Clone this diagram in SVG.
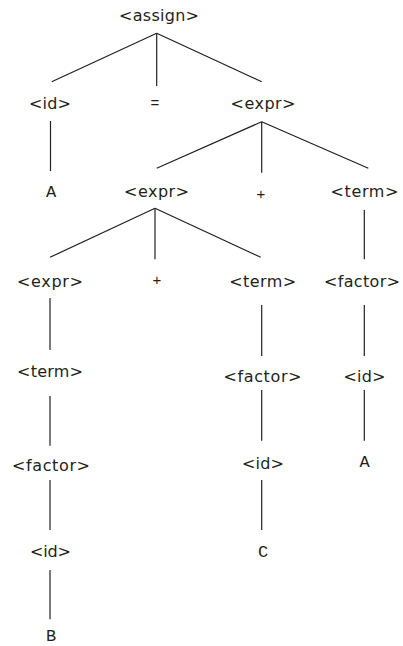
<svg xmlns="http://www.w3.org/2000/svg" width="403" height="646" viewBox="0 0 403 646">
<style>
.n{font-family:"DejaVu Sans","Liberation Sans",sans-serif;font-size:16px;fill:#231f20;text-anchor:middle}
.m{font-family:"Liberation Mono","Courier New",monospace;font-size:17px;fill:#231f20;text-anchor:middle}
.s{font-family:"Liberation Sans",Arial,sans-serif;font-size:15px;fill:#231f20;text-anchor:middle}
#edges line{stroke:#231f20;stroke-width:1.2}
</style>
<rect width="403" height="646" fill="#fff"/>
<g id="edges">
<line x1="156.7" y1="33.3" x2="51.7" y2="81.7"/>
<line x1="156.7" y1="33.3" x2="156.7" y2="86"/>
<line x1="156.7" y1="33.3" x2="261.7" y2="81.7"/>
<line x1="50.5" y1="121" x2="50.5" y2="171"/>
<line x1="261.7" y1="121.7" x2="156.7" y2="168.3"/>
<line x1="261.7" y1="121.7" x2="261.7" y2="172.7"/>
<line x1="261.7" y1="121.7" x2="368.3" y2="168.3"/>
<line x1="155" y1="208.3" x2="50" y2="257.3"/>
<line x1="155" y1="208.3" x2="155" y2="259.3"/>
<line x1="155" y1="208.3" x2="260.7" y2="257.3"/>
<line x1="364.3" y1="210" x2="364.3" y2="259.3"/>
<line x1="50" y1="298" x2="50" y2="350"/>
<line x1="261.7" y1="305" x2="261.7" y2="356"/>
<line x1="364.3" y1="305" x2="364.3" y2="356"/>
<line x1="50" y1="396" x2="50" y2="445.7"/>
<line x1="261.7" y1="390" x2="261.7" y2="440.7"/>
<line x1="364.3" y1="390" x2="364.3" y2="440.7"/>
<line x1="50" y1="480" x2="50" y2="530"/>
<line x1="261.7" y1="480" x2="261.7" y2="530"/>
<line x1="50" y1="570" x2="50" y2="619.3"/>
</g>
<g id="assign"><text class="n" x="159" y="21" textLength="80" lengthAdjust="spacing">&lt;assign&gt;</text></g>
<g id="id1"><text class="n" x="50" y="109" textLength="42" lengthAdjust="spacing">&lt;id&gt;</text></g>
<g id="eq"><text class="s" x="155" y="108">=</text></g>
<g id="expr1"><text class="n" x="263" y="109" textLength="65" lengthAdjust="spacing">&lt;expr&gt;</text></g>
<g id="A1"><text class="m" x="51" y="197">A</text></g>
<g id="expr2"><text class="n" x="156.5" y="197" textLength="65" lengthAdjust="spacing">&lt;expr&gt;</text></g>
<g id="plus1"><text class="s" x="261" y="199">+</text></g>
<g id="term1"><text class="n" x="364.5" y="197" textLength="68" lengthAdjust="spacing">&lt;term&gt;</text></g>
<g id="expr3"><text class="n" x="50" y="287" textLength="66" lengthAdjust="spacing">&lt;expr&gt;</text></g>
<g id="plus2"><text class="s" x="157" y="285">+</text></g>
<g id="term2"><text class="n" x="262.7" y="287" textLength="67" lengthAdjust="spacing">&lt;term&gt;</text></g>
<g id="factor1"><text class="n" x="362" y="287" textLength="76" lengthAdjust="spacing">&lt;factor&gt;</text></g>
<g id="term3"><text class="n" x="50" y="376.5" textLength="66" lengthAdjust="spacing">&lt;term&gt;</text></g>
<g id="factor2"><text class="n" x="262.5" y="381.5" textLength="78" lengthAdjust="spacing">&lt;factor&gt;</text></g>
<g id="id2"><text class="n" x="364.5" y="381.5" textLength="42" lengthAdjust="spacing">&lt;id&gt;</text></g>
<g id="factor3"><text class="n" x="51" y="470.5" textLength="78" lengthAdjust="spacing">&lt;factor&gt;</text></g>
<g id="id3"><text class="n" x="263" y="469" textLength="42" lengthAdjust="spacing">&lt;id&gt;</text></g>
<g id="A2"><text class="m" x="364.7" y="467">A</text></g>
<g id="id4"><text class="n" x="50.5" y="556.5" textLength="41" lengthAdjust="spacing">&lt;id&gt;</text></g>
<g id="C"><text class="m" x="263" y="556.5">C</text></g>
<g id="B"><text class="m" x="51" y="641">B</text></g>
</svg>
